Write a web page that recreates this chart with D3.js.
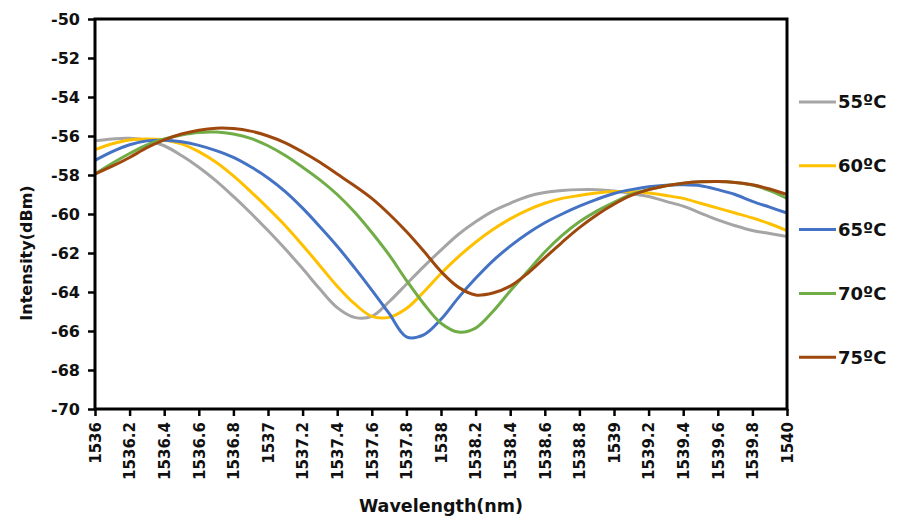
<!DOCTYPE html>
<html>
<head>
<meta charset="utf-8">
<style>
    body { margin: 0; background: #fff; }
    svg { display: block; font-family: 'DejaVu Sans', Arial, sans-serif; }
    .axis .domain { display: none; }
    .axis .tick line { stroke: #000; stroke-width: 2.5; }
    .axis-title { font-weight: 700; fill: #111; }
    .legend text { font-size: 18px; font-weight: 700; fill: #111; }
</style>
</head>
<body>
<svg width="897" height="522"></svg>

<script src="https://d3js.org/d3.v7.min.js"></script>
<script>
    // wavelength grid (nm), 0.1 nm step
    let wavelengths = d3.range(0, 41).map(function (i) { return +(1536 + i * 0.1).toFixed(1) });

    let temps = ["55ºC", "60ºC", "65ºC", "70ºC", "75ºC"];
    let colors = ["#A5A5A5", "#FFC000", "#4472C4", "#70AD47", "#9E480E"];

    let t55 = [-56.25, -56.15, -56.12, -56.22, -56.5, -57.0, -57.6, -58.3, -59.1, -59.95,
        -60.85, -61.8, -62.8, -63.85, -64.8, -65.3, -65.25, -64.5, -63.6, -62.7,
        -61.85, -61.05, -60.4, -59.85, -59.45, -59.1, -58.9, -58.8, -58.75, -58.75,
        -58.82, -58.95, -59.1, -59.35, -59.6, -59.95, -60.3, -60.6, -60.85, -61.0, -61.15];
    let t60 = [-56.7, -56.4, -56.2, -56.15, -56.2, -56.4, -56.8, -57.35, -58.05, -58.85,
        -59.7, -60.6, -61.6, -62.65, -63.7, -64.6, -65.25, -65.3, -64.85, -64.0,
        -63.05, -62.2, -61.45, -60.8, -60.25, -59.8, -59.45, -59.2, -59.05, -58.92,
        -58.85, -58.85, -58.92, -59.05, -59.2, -59.45, -59.7, -59.95, -60.2, -60.5, -60.85];
    let t65 = [-57.25, -56.8, -56.45, -56.25, -56.22, -56.3, -56.48, -56.75, -57.1, -57.58,
        -58.15, -58.85, -59.7, -60.65, -61.65, -62.75, -63.9, -65.1, -66.3, -66.2,
        -65.4, -64.3, -63.3, -62.4, -61.65, -61.0, -60.45, -60.0, -59.6, -59.25,
        -58.95, -58.75, -58.6, -58.52, -58.5, -58.55, -58.75, -59.0, -59.35, -59.65, -59.95];
    let t70 = [-57.95, -57.4, -56.9, -56.45, -56.15, -55.95, -55.82, -55.8, -55.9, -56.12,
        -56.5, -57.0, -57.6, -58.25, -59.0, -59.9, -60.95, -62.1, -63.4, -64.6,
        -65.6, -66.05, -65.85, -65.0, -63.95, -62.95, -61.95, -61.1, -60.4, -59.85,
        -59.4, -59.0, -58.75, -58.55, -58.42, -58.35, -58.33, -58.38, -58.52, -58.8, -59.2];
    let t75 = [-57.95, -57.55, -57.1, -56.6, -56.2, -55.9, -55.7, -55.6, -55.62, -55.75,
        -56.0, -56.35, -56.82, -57.35, -57.95, -58.55, -59.2, -60.0, -60.9, -61.9,
        -62.95, -63.75, -64.15, -64.05, -63.7, -63.05, -62.25, -61.45, -60.7, -60.05,
        -59.5, -59.05, -58.75, -58.55, -58.42, -58.35, -58.33, -58.38, -58.5, -58.72, -59.0];

    let xTicks = d3.range(0, 21).map(function (i) { return +(1536 + i * 0.2).toFixed(1) });
    let yTicks = d3.range(-70, -49, 2);

    let series = [t55, t60, t65, t70, t75];

    let svg = d3.select("svg");
    let margin = { top: 19, right: 110, bottom: 113, left: 95 };
    let width = 897, height = 522;

    let xScale = d3.scaleLinear().domain([1536, 1540]).range([margin.left, width - margin.right]);
    let yScale = d3.scaleLinear().domain([-70, -50]).range([height - margin.bottom, margin.top]);

    // y axis
    let yAxis = svg.append("g")
        .attr("class", "y axis")
        .attr("transform", `translate(${margin.left},0)`)
        .call(d3.axisLeft(yScale).tickValues(yTicks).tickSize(7).tickPadding(8).tickFormat(function (d) { return String(d) }));
    yAxis.selectAll(".tick text")
        .style("font-family", "'DejaVu Sans', Arial, sans-serif")
        .style("font-size", "16px")
        .style("font-weight", "700")
        .style("fill", "#111");

    // x axis with rotated labels
    let xAxis = svg.append("g")
        .attr("class", "x axis")
        .attr("transform", `translate(0,${height - margin.bottom})`)
        .call(d3.axisBottom(xScale).tickValues(xTicks).tickSize(7).tickFormat(function (d) { return String(d) }));
    xAxis.selectAll(".tick text")
        .attr("transform", "rotate(-90)")
        .attr("text-anchor", "end")
        .attr("x", -13)
        .attr("y", 0)
        .attr("dy", "0.35em")
        .style("font-family", "'DejaVu Sans', Arial, sans-serif")
        .style("font-size", "15px")
        .style("font-weight", "700")
        .style("fill", "#111");

    // lines
    let line = d3.line()
        .x(function (d, i) { return xScale(wavelengths[i]) })
        .y(function (d) { return yScale(d) })
        .curve(d3.curveCatmullRom.alpha(0.5));

    svg.selectAll("path.series")
        .data(series)
        .enter().append("path")
        .attr("class", "series")
        .attr("d", line)
        .attr("fill", "none")
        .attr("stroke", function (d, i) { return colors[i] })
        .attr("stroke-width", 3);

    // frame
    svg.append("rect")
        .attr("x", xScale(1536))
        .attr("y", yScale(-50))
        .attr("width", xScale(1540) - xScale(1536))
        .attr("height", yScale(-70) - yScale(-50))
        .attr("fill", "none")
        .attr("stroke", "#000")
        .attr("stroke-width", 3);

    // axis titles
    svg.append("text")
        .attr("class", "axis-title")
        .attr("x", (xScale(1536) + xScale(1540)) / 2)
        .attr("y", 512)
        .attr("text-anchor", "middle")
        .style("font-size", "17.5px")
        .text("Wavelength(nm)");

    svg.append("text")
        .attr("class", "axis-title")
        .attr("transform", "translate(32,253) rotate(-90)")
        .attr("text-anchor", "middle")
        .style("font-size", "16px")
        .text("Intensity(dBm)");

    // legend
    let legend = svg.append("g").attr("class", "legend");
    let items = legend.selectAll("g")
        .data(temps)
        .enter().append("g")
        .attr("transform", function (d, i) { return `translate(799,${102 + i * 63.8})` });
    items.append("line")
        .attr("x1", 0).attr("x2", 37)
        .attr("stroke", function (d, i) { return colors[i] })
        .attr("stroke-width", 3);
    items.append("text")
        .attr("x", 39)
        .attr("dy", "0.35em")
        .text(function (d) { return d });
</script>
</body>
</html>
